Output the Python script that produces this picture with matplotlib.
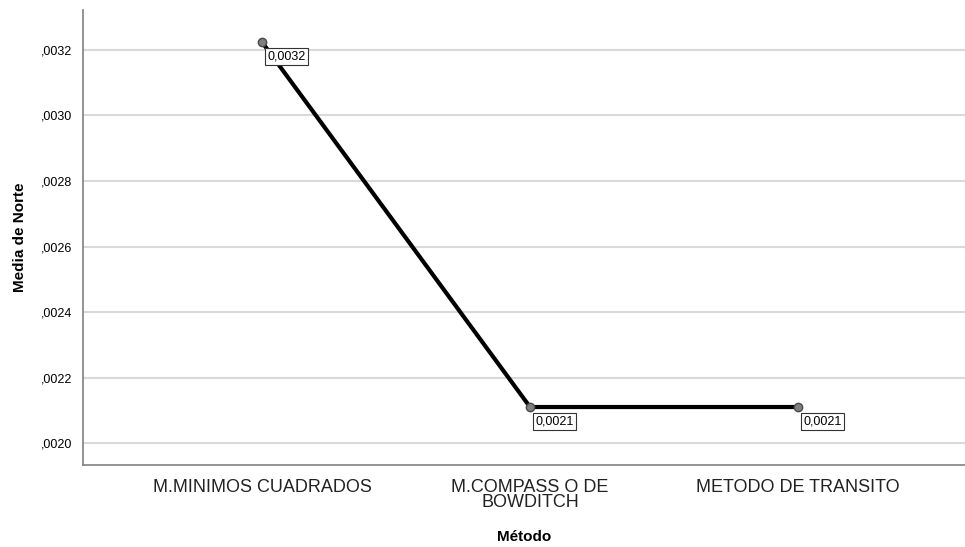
import matplotlib
matplotlib.use("Agg")
import matplotlib.pyplot as plt
from matplotlib.ticker import FuncFormatter

# data
metodos = ["M.MINIMOS CUADRADOS", "M.COMPASS O DE\nBOWDITCH", "METODO DE TRANSITO"]
medias = [0.003224, 0.00211, 0.00211]
etiquetas = ["0,0032", "0,0021", "0,0021"]
yticks = [0.0020, 0.0022, 0.0024, 0.0026, 0.0028, 0.0030, 0.0032]

plt.rcParams["font.family"] = ["Liberation Sans", "DejaVu Sans"]

fig = plt.figure(figsize=(9.65, 5.47), dpi=100)
ax = fig.add_axes([83 / 965, 82 / 547, 1 - 83 / 965, 455 / 547])

x = list(range(len(metodos)))
ax.plot(x, medias, color="black", lw=3, zorder=3)
ax.plot(x, medias, ls="none", marker="o", ms=6, mfc="#7f7f7f", mec="#4a4a4a",
        mew=1, zorder=4)

for xi, yi, lab in zip(x, medias, etiquetas):
    ax.annotate(lab, (xi, yi), xytext=(4, -6), textcoords="offset points",
                ha="left", va="top", fontsize=9, zorder=5,
                bbox=dict(boxstyle="square,pad=0.2", fc="white", ec="#333333", lw=0.8))

ax.set_xlim(-0.668, 2.623)
ax.set_ylim(0.001933, 0.003322)
ax.set_yticks(yticks)
ax.yaxis.set_major_formatter(FuncFormatter(lambda v, p: ("%.4f" % v)[1:].replace(".", ",")))
ax.set_xticks(x)
ax.set_xticklabels(metodos, fontsize=13, color="#222222", linespacing=0.85)
ax.tick_params(axis="y", length=0, pad=8, labelsize=9)
ax.tick_params(axis="x", length=0, pad=10)

ax.grid(axis="y", color="#d9d9d9", lw=1.5)
ax.set_axisbelow(True)
for s in ["top", "right"]:
    ax.spines[s].set_visible(False)
for s in ["left", "bottom"]:
    ax.spines[s].set_color("#808080")
    ax.spines[s].set_linewidth(1.2)

ax.set_ylabel("Media de Norte", fontsize=11, fontweight="bold", labelpad=10)
ax.set_xlabel("Método", fontsize=11, fontweight="bold", labelpad=14)

fig.savefig("out.png", dpi=100)
